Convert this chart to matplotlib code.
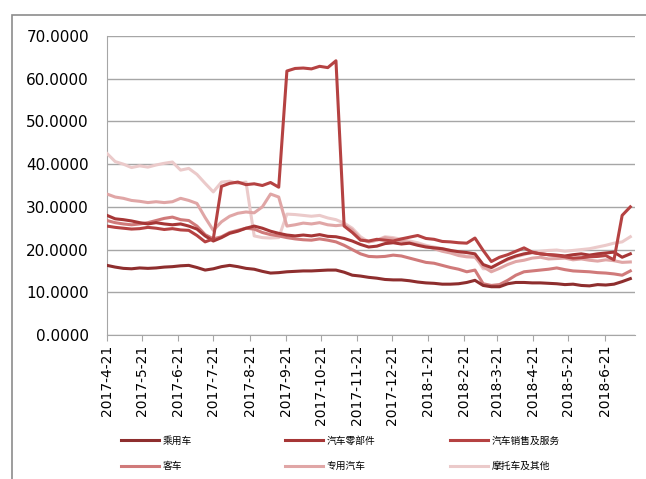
import matplotlib
matplotlib.use("Agg")
import matplotlib.pyplot as plt
from matplotlib.patches import Rectangle
import pandas as pd

plt.rcParams["font.family"] = ["DejaVu Sans", "Noto Sans CJK SC"]

# weekly sample dates (Fridays)
dates = pd.date_range("2017-04-21", periods=65, freq="7D")

passenger = [16.3, 15.9, 15.6, 15.5, 15.7, 15.6, 15.7, 15.9, 16.0, 16.2,
             16.3, 15.8, 15.2, 15.5, 16.0, 16.3, 16.0, 15.6, 15.4, 14.9,
             14.5, 14.6, 14.8, 14.9, 15.0, 15.0, 15.1, 15.2, 15.2, 14.7,
             14.0, 13.8, 13.5, 13.3, 13.0, 12.9, 12.9, 12.7, 12.4, 12.2,
             12.1, 11.9, 11.9, 12.0, 12.3, 12.8, 11.6, 11.3, 11.3, 12.0,
             12.3, 12.3, 12.2, 12.2, 12.1, 12.0, 11.8, 11.9, 11.6, 11.5,
             11.8, 11.7, 11.9, 12.5, 13.2]

parts = [28.0, 27.2, 27.0, 26.7, 26.3, 26.0, 26.3, 26.0, 25.8, 26.0,
         25.5, 24.8, 23.2, 22.0, 22.8, 23.8, 24.3, 25.0, 25.5, 25.0,
         24.3, 23.8, 23.4, 23.2, 23.4, 23.2, 23.5, 23.1, 23.0, 22.6,
         22.0, 21.2, 20.6, 20.8, 21.4, 21.6, 21.3, 21.5, 21.0, 20.6,
         20.4, 20.2, 19.8, 19.5, 19.3, 19.0, 16.5, 15.8, 16.8, 17.8,
         18.5, 19.0, 19.3, 19.0, 18.8, 18.7, 18.5, 18.8, 19.0, 18.7,
         19.0, 19.2, 19.4, 18.2, 19.0]

sales = [25.5, 25.2, 25.0, 24.8, 24.9, 25.2, 25.0, 24.7, 24.9, 24.6,
         24.5, 23.3, 21.8, 22.5, 34.8, 35.5, 35.8, 35.2, 35.4, 35.0,
         35.7, 34.6, 61.8, 62.4, 62.5, 62.3, 62.9, 62.6, 64.2, 25.5,
         24.0, 22.2, 22.0, 22.4, 22.2, 22.0, 22.5, 22.9, 23.3, 22.6,
         22.4, 21.9, 21.8, 21.6, 21.5, 22.7, 19.8, 17.2, 18.2, 18.8,
         19.6, 20.4, 19.4, 19.0, 18.8, 18.6, 18.3, 18.0, 18.1, 18.3,
         18.4, 18.6, 17.6, 28.0, 30.0]

bus = [26.8, 26.3, 26.0, 25.8, 26.0, 26.3, 26.8, 27.3, 27.6, 27.0,
       26.8, 25.5, 23.5, 22.5, 23.0, 24.0, 24.5, 25.0, 24.8, 24.0,
       23.5, 23.2, 22.8, 22.5, 22.3, 22.2, 22.5, 22.2, 21.8, 21.0,
       20.0, 19.0, 18.4, 18.3, 18.4, 18.7, 18.5, 18.0, 17.5, 17.0,
       16.8, 16.3, 15.8, 15.4, 14.8, 15.2, 12.0, 11.6, 11.8, 12.8,
       14.0, 14.8, 15.0, 15.2, 15.4, 15.7, 15.3, 15.0, 14.9, 14.8,
       14.6, 14.5, 14.3, 14.0, 15.0]

special = [33.0, 32.3, 32.0, 31.5, 31.3, 31.0, 31.2, 31.0, 31.2, 32.0,
           31.5, 30.8, 27.5, 24.5, 26.5, 27.8, 28.5, 28.8, 28.6, 30.0,
           33.0, 32.3, 25.5, 25.8, 26.2, 26.0, 26.3, 25.8, 25.6, 25.8,
           24.6, 22.5, 21.8, 22.2, 22.8, 22.5, 22.0, 21.6, 21.2, 20.8,
           20.2, 19.6, 19.2, 18.6, 18.3, 18.2, 16.0, 14.8, 15.6, 16.5,
           17.2, 17.5, 18.0, 18.2, 17.8, 17.9, 18.0, 17.6, 17.8, 17.5,
           17.3, 17.6, 17.4, 17.0, 17.1]

moto = [42.5, 40.6, 40.0, 39.2, 39.6, 39.3, 39.8, 40.2, 40.5, 38.6,
        39.0, 37.6, 35.5, 33.5, 35.8, 36.0, 35.5, 35.8, 23.2, 22.8,
        22.7, 22.8, 28.3, 28.2, 28.0, 27.8, 28.0, 27.4, 27.0, 26.2,
        25.0, 23.0, 21.8, 22.2, 23.0, 22.8, 22.4, 22.0, 21.6, 21.0,
        20.6, 20.2, 19.8, 19.0, 18.4, 18.6, 15.5, 15.6, 16.8, 17.6,
        18.3, 18.8, 19.4, 19.6, 19.8, 19.9, 19.6, 19.8, 20.0, 20.2,
        20.6, 21.0, 21.5, 21.8, 23.0]

names = ["乘用车", "汽车零部件", "汽车销售及服务", "客车", "专用汽车", "摩托车及其他"]
colors = ["#8E2E2E", "#A63636", "#B54242", "#D07A7A", "#E0A6A6", "#EBCACA"]
series = [passenger, parts, sales, bus, special, moto]

tick_dates = pd.to_datetime([
    "2017-04-21", "2017-05-21", "2017-06-21", "2017-07-21", "2017-08-21",
    "2017-09-21", "2017-10-21", "2017-11-21", "2017-12-21", "2018-01-21",
    "2018-02-21", "2018-03-21", "2018-04-21", "2018-05-21", "2018-06-21"])
tick_labels = [f"{d.year}-{d.month}-{d.day}" for d in tick_dates]

W, H = 646, 479
fig = plt.figure(figsize=(W / 100, H / 100), dpi=100)
fig.patches.append(Rectangle((12 / W, -0.1), 1.2, 1 - 15 / H + 0.1,
                             transform=fig.transFigure, fill=False,
                             edgecolor="#8C8C8C", linewidth=1.2))
ax = fig.add_axes([107 / W, 1 - 335 / H, (635 - 107) / W, (335 - 36) / H])

# lightest first so the darker series sit on top
lines = {}
for i in [5, 4, 3, 0, 1, 2]:
    lines[i], = ax.plot(dates, series[i], color=colors[i], linewidth=2.2,
                        solid_joinstyle="round", zorder=3)

ax.set_ylim(0, 70)
ax.set_yticks(range(0, 71, 10))
ax.set_yticklabels([f"{v:.4f}" for v in range(0, 71, 10)], fontsize=11)
ax.set_xlim(pd.Timestamp("2017-04-21"), pd.Timestamp("2018-07-17"))
ax.set_xticks(tick_dates)
ax.set_xticklabels(tick_labels, rotation=90, fontsize=10)
ax.yaxis.grid(True, color="#A6A6A6", linewidth=1)
ax.set_axisbelow(True)
ax.tick_params(axis="y", length=0, pad=13)
ax.tick_params(axis="x", length=4, color="#A6A6A6", pad=3)
for side in ["top", "right"]:
    ax.spines[side].set_visible(False)
for side in ["left", "bottom"]:
    ax.spines[side].set_color("#A6A6A6")

# legend: three columns of two entries each, placed like the original
leg_font = {"family": ["Noto Sans CJK SC", "DejaVu Sans"], "size": 7}
for col, x0 in enumerate([116, 280, 445]):
    idx = [col, col + 3]
    leg = fig.legend([lines[i] for i in idx], [names[i] for i in idx],
                     loc="upper left", bbox_to_anchor=(x0 / W, 1 - 431 / H),
                     frameon=False, handlelength=3.9, handletextpad=0.4,
                     labelspacing=1.55, borderpad=0, prop=leg_font)

fig.savefig("out.png", dpi=100)
